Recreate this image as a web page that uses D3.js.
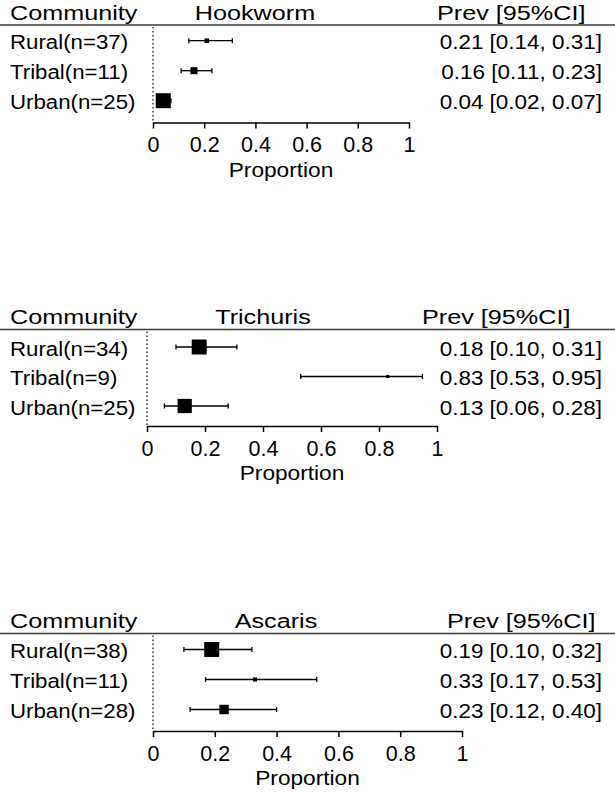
<!DOCTYPE html>
<html>
<head>
<meta charset="utf-8">
<script src="https://cdn.jsdelivr.net/npm/d3@7"></script>
<style>
  html, body { margin: 0; padding: 0; background: #fff; }
  svg text { font-family: Arial, "Liberation Sans", sans-serif; fill: #000; }
</style>
</head>
<body>
<svg id="chart" width="615" height="793"></svg>
<script>
// ---- Data ----
const panelTitles = ["Hookworm", "Trichuris", "Ascaris"];
const headerLeft = "Community";
const headerRight = "Prev [95%CI]";
const axisTitle = "Proportion";
const tickValues = [0, 0.2, 0.4, 0.6, 0.8, 1];
const tickLabels = ["0", "0.2", "0.4", "0.6", "0.8", "1"];

const hookwormLabels = ["Rural(n=37)", "Tribal(n=11)", "Urban(n=25)"];
const hookwormPrev   = [0.21, 0.16, 0.04];
const hookwormLower  = [0.14, 0.11, 0.02];
const hookwormUpper  = [0.31, 0.23, 0.07];
const hookwormWeight = [0.31, 0.47, 1.0];

const trichurisLabels = ["Rural(n=34)", "Tribal(n=9)", "Urban(n=25)"];
const trichurisPrev   = [0.18, 0.83, 0.13];
const trichurisLower  = [0.10, 0.53, 0.06];
const trichurisUpper  = [0.31, 0.95, 0.28];
const trichurisWeight = [1.0, 0.21, 0.95];

const ascarisLabels = ["Rural(n=38)", "Tribal(n=11)", "Urban(n=28)"];
const ascarisPrev   = [0.19, 0.33, 0.23];
const ascarisLower  = [0.10, 0.17, 0.12];
const ascarisUpper  = [0.32, 0.53, 0.40];
const ascarisWeight = [1.0, 0.27, 0.63];

// ---- Layout (positions only) ----
const layouts = [
  { lineY: 25,    headY: 19.5, row0: 40.7, step: 30,   axisY: 122.5, x0: 153, x1: 409, titleX: 255, prevX: 437 },
  { lineY: 329.5, headY: 324,  row0: 347,  step: 29.5, axisY: 426,   x0: 147, x1: 437, titleX: 263, prevX: 422 },
  { lineY: 633.5, headY: 628,  row0: 649.5,step: 30,   axisY: 731,   x0: 153, x1: 462, titleX: 276, prevX: 447 }
];

const datasets = [
  { labels: hookwormLabels, prev: hookwormPrev, lower: hookwormLower, upper: hookwormUpper, weight: hookwormWeight },
  { labels: trichurisLabels, prev: trichurisPrev, lower: trichurisLower, upper: trichurisUpper, weight: trichurisWeight },
  { labels: ascarisLabels, prev: ascarisPrev, lower: ascarisLower, upper: ascarisUpper, weight: ascarisWeight }
];

const svg = d3.select("#chart");
const fs = 21;
const sxHead = 1.2, sxRow = 1.06, sxVal = 1.07, sxTitle = 1.08;
const boxScale = d3.scaleLinear().domain([0, 1]).range([0, 15]);
const fmt = d3.format(".2f");

function stretchedText(sel, x, y, sx, anchor, txt, size) {
  return sel.append("text")
    .attr("transform", `translate(${x},${y}) scale(${sx},1)`)
    .attr("font-size", size || fs)
    .attr("text-anchor", anchor)
    .text(txt);
}

datasets.forEach((ds, p) => {
  const L = layouts[p];
  const g = svg.append("g");
  const x = d3.scaleLinear().domain([0, 1]).range([L.x0, L.x1]);
  const rows = ds.labels.map((lab, i) => ({
    label: lab, prev: ds.prev[i], lo: ds.lower[i], hi: ds.upper[i], w: ds.weight[i]
  }));
  const y = d3.scalePoint().domain(ds.labels)
    .range([L.row0, L.row0 + L.step * (ds.labels.length - 1)]);

  // header
  stretchedText(g, 10, L.headY, sxHead, "start", headerLeft);
  stretchedText(g, L.titleX, L.headY, sxHead, "middle", panelTitles[p]);
  stretchedText(g, L.prevX, L.headY, sxHead, "start", headerRight);
  g.append("line").attr("x1", 0).attr("x2", 615).attr("y1", L.lineY).attr("y2", L.lineY)
    .attr("stroke", "#3a3a3a").attr("stroke-width", 1.7);

  // zero reference line (dotted)
  g.append("line").attr("x1", x(0)).attr("x2", x(0))
    .attr("y1", L.lineY + 2).attr("y2", L.axisY)
    .attr("stroke", "#000").attr("stroke-width", 1.2).attr("stroke-dasharray", "1.5,2.5");

  // row labels & values
  rows.forEach(d => {
    stretchedText(g, 10, y(d.label) + 8.6, sxRow, "start", d.label);
    stretchedText(g, 602, y(d.label) + 8.6, sxVal, "end",
      `${fmt(d.prev)} [${fmt(d.lo)}, ${fmt(d.hi)}]`);
  });

  // CI lines
  g.selectAll(".ci").data(rows).join("line")
    .attr("x1", d => x(d.lo)).attr("x2", d => x(d.hi))
    .attr("y1", d => y(d.label)).attr("y2", d => y(d.label))
    .attr("stroke", "#000").attr("stroke-width", 1.3);
  // caps
  ["lo", "hi"].forEach(k => {
    g.selectAll(".cap" + k).data(rows).join("line")
      .attr("x1", d => x(d[k])).attr("x2", d => x(d[k]))
      .attr("y1", d => y(d.label) - 2.5).attr("y2", d => y(d.label) + 2.5)
      .attr("stroke", "#000").attr("stroke-width", 1.3);
  });
  // boxes
  g.selectAll(".box").data(rows).join("rect")
    .attr("x", d => x(d.prev) - Math.max(3, boxScale(d.w)) / 2)
    .attr("y", d => y(d.label) - Math.max(3, boxScale(d.w)) / 2)
    .attr("width", d => Math.max(3, boxScale(d.w)))
    .attr("height", d => Math.max(3, boxScale(d.w)))
    .attr("fill", "#000");

  // axis
  const axis = d3.axisBottom(x).tickValues(tickValues)
    .tickFormat((d, i) => tickLabels[i]).tickSize(6).tickSizeOuter(0).tickPadding(8);
  const ag = g.append("g").attr("transform", `translate(0,${L.axisY})`).call(axis);
  ag.select(".domain").attr("stroke", "#000").attr("stroke-width", 1.5);
  ag.selectAll(".tick line").attr("stroke", "#000").attr("stroke-width", 1.5);
  ag.selectAll(".tick text").attr("font-size", 21.5)
    .attr("font-family", "Arial, 'Liberation Sans', sans-serif")
    .attr("fill", "#000").attr("dy", null).attr("y", 29.5);

  stretchedText(g, (L.x0 + L.x1) / 2, L.axisY + 54, sxTitle, "middle", axisTitle);
});
</script>
</body>
</html>
